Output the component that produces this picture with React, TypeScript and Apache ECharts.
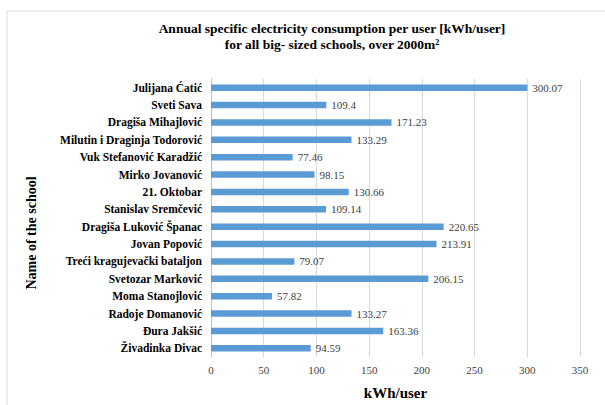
import React, { useEffect, useRef } from "react";
import * as echarts from "echarts";

const schools = [
  "Julijana Ćatić",
  "Sveti Sava",
  "Dragiša Mihajlović",
  "Milutin i Draginja Todorović",
  "Vuk Stefanović Karadžić",
  "Mirko Jovanović",
  "21. Oktobar",
  "Stanislav Sremčević",
  "Dragiša Luković Španac",
  "Jovan Popović",
  "Treći kragujevački bataljon",
  "Svetozar Marković",
  "Moma Stanojlović",
  "Radoje Domanović",
  "Đura Jakšić",
  "Živadinka Divac",
];

const consumption = [
  300.07, 109.4, 171.23, 133.29, 77.46, 98.15, 130.66, 109.14, 220.65, 213.91,
  79.07, 206.15, 57.82, 133.27, 163.36, 94.59,
];

const titleLines = [
  "Annual specific electricity consumption per user [kWh/user]",
  "for all big- sized schools, over 2000m²",
];
const xAxisName = "kWh/user";
const yAxisName = "Name of the school";

const SERIF = "Liberation Serif";

export default function App() {
  const ref = useRef<HTMLDivElement>(null);
  useEffect(() => {
    if (!ref.current) return;
    const chart = echarts.init(ref.current, null, { renderer: "svg" });
    chart.setOption({
      animation: false,
      backgroundColor: "#ffffff",
      textStyle: { fontFamily: SERIF },
      graphic: [
        {
          type: "rect",
          shape: { x: 7, y: 11, width: 640, height: 420 },
          style: { fill: "none", stroke: "#d9d9d9", lineWidth: 1 },
          silent: true,
        },
        {
          type: "text",
          x: 332,
          y: 36,
          style: {
            text: titleLines.join("\n"),
            fontFamily: SERIF,
            fontWeight: "bold",
            fontSize: 13.5,
            fill: "#000000",
            align: "center",
            verticalAlign: "middle",
            lineHeight: 16,
          },
        },
        {
          type: "text",
          x: 31,
          y: 233,
          rotation: Math.PI / 2,
          style: {
            text: yAxisName,
            fontFamily: SERIF,
            fontWeight: "bold",
            fontSize: 14,
            fill: "#000000",
            align: "center",
            verticalAlign: "middle",
          },
        },
      ],
      grid: { left: 211, right: 25, top: 79, bottom: 43, containLabel: false },
      xAxis: {
        type: "value",
        min: 0,
        max: 350,
        interval: 50,
        name: xAxisName,
        nameLocation: "middle",
        nameGap: 28,
        nameTextStyle: {
          fontFamily: SERIF,
          fontWeight: "bold",
          fontSize: 15,
          color: "#000000",
          verticalAlign: "top",
        },
        axisLine: { show: false },
        axisTick: { show: false },
        axisLabel: {
          fontFamily: SERIF,
          fontSize: 11,
          color: "#404040",
          margin: 7,
        },
        splitLine: { show: true, lineStyle: { color: "#d9d9d9", width: 1 } },
      },
      yAxis: {
        type: "category",
        data: schools,
        inverse: true,
        axisLine: { show: true, lineStyle: { color: "#bfbfbf", width: 1 } },
        axisTick: { show: false },
        axisLabel: {
          fontFamily: SERIF,
          fontWeight: "bold",
          fontSize: 11.5,
          color: "#000000",
          margin: 9,
        },
        splitLine: { show: false },
      },
      series: [
        {
          type: "bar",
          data: consumption,
          barWidth: "38%",
          itemStyle: { color: "#5b9bd5" },
          label: {
            show: true,
            position: "right",
            distance: 5,
            fontFamily: SERIF,
            fontSize: 11,
            color: "#404040",
            formatter: (p: any) => String(p.value),
          },
        },
      ],
    });
    return () => chart.dispose();
  }, []);
  return (
    <div
      ref={ref}
      style={{ position: "fixed", left: 0, top: 0, width: 605, height: 405, background: "#fff" }}
    />
  );
}
